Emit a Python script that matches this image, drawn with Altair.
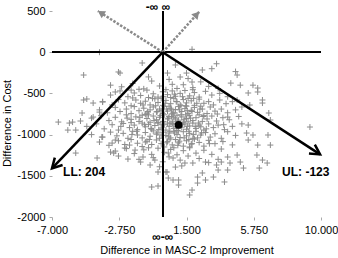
import altair as alt
import pandas as pd

# Bootstrap replicates (difference in effect, difference in cost)
core_points = [
    (-2.6,-420),(-1.9,-380),(-1.2,-445),(-0.7,-350),(-0.2,-410),(0.4,-330),(0.9,-440),(1.3,-395),(1.9,-430),(2.4,-360),(2.9,-415),(3.5,-440),(-0.9,-300),(0.2,-455),(1.6,-320),(-1.5,-450),(0.6,-390),
    (-3.3,-520),(-2.7,-470),(-2.2,-540),(-1.8,-495),(-1.4,-525),(-1.0,-460),(-0.6,-505),(-0.3,-545),(0.0,-480),(0.3,-515),(0.6,-470),(0.8,-535),(1.1,-500),(1.4,-465),(1.7,-530),(2.0,-490),(2.3,-545),(2.7,-475),(3.1,-520),(3.6,-500),(4.1,-540),(-0.9,-550),(0.5,-550),(1.9,-455),(-2.0,-460),
    (-3.8,-600),(-3.2,-640),(-2.8,-575),(-2.4,-615),(-2.0,-650),(-1.7,-580),(-1.4,-620),(-1.1,-595),(-0.8,-640),(-0.5,-565),(-0.3,-610),(0.0,-645),(0.2,-585),(0.5,-625),(0.7,-560),(0.9,-600),(1.1,-640),(1.3,-575),(1.5,-615),(1.8,-590),(2.0,-645),(2.3,-570),(2.6,-620),(2.9,-600),(3.2,-640),(3.6,-580),(4.0,-625),(4.4,-600),(-1.9,-555),(0.4,-655),(1.6,-560),(-0.1,-560),
    (-4.0,-700),(-3.5,-735),(-3.0,-670),(-2.7,-720),(-2.3,-690),(-2.0,-745),(-1.8,-660),(-1.5,-710),(-1.2,-680),(-1.0,-740),(-0.8,-700),(-0.6,-665),(-0.4,-725),(-0.2,-690),(0.0,-745),(0.1,-660),(0.3,-715),(0.5,-680),(0.7,-735),(0.8,-695),(1.0,-660),(1.2,-720),(1.4,-685),(1.6,-745),(1.8,-705),(2.0,-670),(2.2,-730),(2.5,-690),(2.8,-745),(3.0,-665),(3.3,-715),(3.7,-690),(4.1,-735),(4.6,-700),(-1.1,-755),(0.6,-750),(1.5,-655),(-0.1,-710),(2.4,-655),
    (-4.5,-800),(-3.9,-770),(-3.4,-830),(-3.0,-790),(-2.6,-845),(-2.3,-760),(-2.0,-815),(-1.7,-785),(-1.5,-840),(-1.3,-765),(-1.0,-805),(-0.8,-850),(-0.6,-775),(-0.4,-820),(-0.2,-790),(0.0,-840),(0.1,-760),(0.3,-810),(0.4,-780),(0.6,-845),(0.7,-795),(0.9,-765),(1.0,-825),(1.2,-785),(1.3,-850),(1.5,-805),(1.7,-770),(1.9,-830),(2.1,-795),(2.3,-760),(2.5,-840),(2.8,-810),(3.1,-775),(3.4,-835),(3.8,-795),(4.2,-820),(4.8,-780),(-0.9,-760),(0.8,-810),(1.6,-845),(-0.3,-855),(2.6,-770),
    (-4.8,-900),(-4.2,-870),(-3.7,-930),(-3.2,-880),(-2.8,-945),(-2.5,-865),(-2.1,-915),(-1.8,-885),(-1.6,-940),(-1.3,-860),(-1.1,-905),(-0.9,-875),(-0.7,-935),(-0.5,-890),(-0.3,-860),(-0.1,-920),(0.1,-880),(0.2,-945),(0.4,-900),(0.6,-865),(0.7,-925),(0.9,-950),(1.2,-910),(1.4,-870),(1.5,-935),(1.7,-895),(1.9,-860),(2.1,-925),(2.3,-885),(2.6,-945),(2.9,-870),(3.2,-915),(3.5,-885),(3.9,-940),(4.4,-900),(5.0,-870),(-2.0,-855),(0.3,-860),(1.0,-860),(2.4,-905),
    (-4.5,-1000),(-3.8,-1030),(-3.3,-970),(-2.9,-1015),(-2.5,-985),(-2.2,-1045),(-1.9,-960),(-1.6,-1005),(-1.3,-1040),(-1.1,-975),(-0.8,-1020),(-0.6,-955),(-0.4,-995),(-0.2,-1045),(0.0,-970),(0.2,-1010),(0.4,-980),(0.5,-1040),(0.7,-960),(0.9,-1000),(1.1,-1035),(1.3,-965),(1.5,-1015),(1.7,-985),(1.9,-1045),(2.1,-960),(2.4,-1005),(2.7,-975),(3.0,-1030),(3.3,-990),(3.7,-1045),(4.1,-965),(4.6,-1010),(-0.1,-1005),(1.0,-955),(2.2,-1040),
    (-4.0,-1090),(-3.4,-1130),(-2.8,-1075),(-2.4,-1120),(-2.0,-1060),(-1.6,-1105),(-1.3,-1145),(-1.0,-1080),(-0.7,-1120),(-0.4,-1065),(-0.1,-1110),(0.1,-1150),(0.3,-1085),(0.6,-1125),(0.8,-1060),(1.0,-1100),(1.3,-1140),(1.5,-1075),(1.8,-1115),(2.0,-1055),(2.3,-1095),(2.6,-1140),(2.9,-1070),(3.3,-1110),(3.8,-1085),(4.4,-1125),(0.4,-1055),(1.7,-1150),
    (-3.0,-1200),(-2.3,-1170),(-1.8,-1230),(-1.2,-1185),(-0.7,-1240),(-0.3,-1165),(0.1,-1215),(0.5,-1180),(0.9,-1245),(1.3,-1195),(1.7,-1160),(2.1,-1225),(2.6,-1190),(3.1,-1240),(3.7,-1175),(0.7,-1160),(-0.9,-1160),
    (-1.5,-1300),(-0.6,-1280),(0.0,-1330),(0.4,-1270),(1.1,-1310),(1.6,-1260),(2.3,-1290),(2.9,-1340),(-0.2,-1390),(1.2,-1380),(3.5,-1300),
    (-0.95,-720),(-0.55,-830),(-0.15,-770),(0.25,-690),(0.45,-860),(0.65,-740),(0.85,-905),(1.05,-700),(1.25,-880),(1.45,-760),(1.65,-960),(1.85,-720),(2.05,-900),(-0.75,-925),(-0.35,-980),(0.05,-840),(0.35,-1020),(0.55,-780),(0.75,-980),(0.95,-840),(1.15,-760),(1.35,-1040),(1.55,-900),(1.75,-800),(1.95,-1000),(2.25,-860),(-1.15,-880),(-0.45,-650),(0.15,-620),(0.85,-600),(1.45,-650),(2.15,-620),(-0.25,-940),(0.45,-960),(1.05,-1080),(1.65,-1060),(-0.85,-1060),(-1.45,-790),(2.55,-780),(2.75,-930),(-1.65,-960),(0.25,-1100),(0.95,-1130),(1.85,-1110),(-0.05,-880),(0.65,-880),(1.35,-820),(2.45,-980),(-1.25,-640),(-0.65,-560),(0.05,-540),(0.75,-510),(1.25,-540),(1.95,-560),(-2.25,-800),(-2.65,-900),(3.45,-750),(3.85,-880),(-1.95,-1000),(2.95,-1110),(0.55,-700),(1.15,-650),(-0.35,-720),(0.35,-800),(1.55,-710),(2.35,-690),
]
outer_points = [
    (-4.0,0),(1.85,35),(-5.0,-277),(-2.8,-240),(-1.3,-131),(-2.7,-253),(-3.3,-400),(-3.0,-483),(-5.0,-580),(-4.4,-617),(-3.8,-605),(-5.1,-738),(-5.7,-848),(-6.0,-945),(-5.5,-945),(-4.4,-787),(-4.0,-727),(-6.6,-848),(-5.9,-860),(-4.8,-568),
    (3.4,-140),(3.1,-200),(4.6,-235),(4.7,-277),(4.3,-375),(4.9,-400),(5.7,-400),(5.4,-495),(6.0,-483),(6.3,-580),(6.3,-617),(5.5,-641),(5.0,-665),(4.7,-580),(6.7,-738),(6.8,-823),(5.4,-884),(5.7,-1005),(4.1,-787),(0.8,-155),(1.5,-253),(0.3,-253),(1.1,-301),(2.5,-216),(1.85,-362),(6.0,-435),(9.3,-908),
    (6.65,-1005),(6.8,-1127),(6.0,-1127),(5.95,-1248),(6.3,-1309),(6.6,-1345),(6.1,-1406),(5.1,-1406),(4.9,-1333),(5.3,-981),(5.4,-1066),(4.1,-1430),(3.5,-1430),(3.9,-1575),(3.2,-1515),(2.7,-1551),(2.2,-1515),(2.5,-1466),(2.2,-1588),(1.85,-1673),(1.7,-1733),(1.0,-1612),(0.65,-1551),(0.35,-1527),(0.27,-1454),(1.0,-1551),(3.4,-1369),(3.7,-1333),(2.7,-1333),(1.9,-1345),(1.4,-1345),(0.8,-1394),(0.65,-1284),(0.35,-1224),(4.7,-1248),(4.25,-1345),(4.1,-1272),
    (-3.85,-1030),(-5.5,-1224),(-3.3,-1212),(-3.1,-1224),(-2.8,-1260),(-2.2,-1297),(-1.4,-1333),(-0.8,-1369),(-0.7,-1636),(-0.3,-1624),(0.2,-1454),(-3.2,-1103),(-3.0,-1066),(-2.4,-1163),(-2.1,-1127),(-1.75,-1188),(-1.25,-1272),(-1.1,-1090),(-0.5,-1309),(-0.3,-1454),(-4.15,-1284),(-5.2,-835),
]

mean_point = [(1.0, -883)]

# arrows: (name, end x, end y) from origin
solid_arrows = [("LL", -7.0, -1410), ("UL", 9.94, -1240)]
dashed_arrows = [("left", -4.1, 500), ("right", 2.3, 490)]

# annotations
labels_text = ["LL: 204", "UL: -123"]
labels_x = [-6.3, 7.54]
labels_y = [-1454, -1454]
inf_text = ["-\u221e \u221e", "\u221e-\u221e"]
inf_x = [-0.3, 0.0]
inf_y = [545, -2245]
inf_size = [12, 12]

x_ticks = [-7, -2.75, 1.5, 5.75, 10]
y_ticks = [-2000, -1500, -1000, -500, 0, 500]

FONT = "Liberation Sans"

pts = core_points + outer_points
scatter_df = pd.DataFrame({"dx": [p[0] for p in pts], "dc": [p[1] for p in pts]})
mean_df = pd.DataFrame({"dx": [p[0] for p in mean_point], "dc": [p[1] for p in mean_point]})


def seg_df(arrows):
    rows = []
    for name, ex, ey in arrows:
        rows.append({"arrow": name, "order": 0, "dx": 0.0, "dc": 0.0})
        rows.append({"arrow": name, "order": 1, "dx": ex, "dc": ey})
    return pd.DataFrame(rows)


solid_df = seg_df(solid_arrows)
dashed_df = seg_df(dashed_arrows)

xscale = alt.Scale(domain=[-7, 10], nice=False, zero=False)
yscale = alt.Scale(domain=[-2000, 500], nice=False, zero=False)

xenc = alt.X("dx:Q", scale=xscale, axis=alt.Axis(
    values=x_ticks, title="Difference in MASC-2 Improvement",
    labelExpr="replace(format(datum.value, '.3f'), '\u2212', '-')",
    domain=False, grid=False, tickColor="#aaaaaa", tickSize=3, tickWidth=1,
    labelPadding=4, titlePadding=9, labelFontSize=11, titleFontSize=11,
    labelFont=FONT, titleFont=FONT, labelColor="black", titleColor="black",
    titleFontWeight="normal", labelFlush=False))
yenc = alt.Y("dc:Q", scale=yscale, axis=alt.Axis(
    values=y_ticks, title="Difference in Cost",
    labelExpr="replace(format(datum.value, 'd'), '\u2212', '-')",
    domain=False, grid=False, tickColor="#aaaaaa", tickSize=3, tickWidth=1,
    labelPadding=4, titlePadding=4, labelFontSize=11, titleFontSize=11,
    labelFont=FONT, titleFont=FONT, labelColor="black", titleColor="black",
    titleFontWeight="normal", titleY=112))

plus_shape = "M-1,0L1,0M0,-1L0,1"
scatter = alt.Chart(scatter_df).mark_point(
    shape=plus_shape, size=36, filled=False, color="#8c8c8c", strokeWidth=1, opacity=1
).encode(x=xenc, y=yenc)

hline = alt.Chart(scatter_df).mark_rule(color="black", strokeWidth=1.5).encode(
    y=alt.datum(0, scale=yscale))
vline = alt.Chart(scatter_df).mark_rule(color="black", strokeWidth=1.5).encode(
    x=alt.datum(0, scale=xscale))

solid_lines = alt.Chart(solid_df).mark_line(color="black", strokeWidth=2.5).encode(
    x=alt.X("dx:Q", scale=xscale), y=alt.Y("dc:Q", scale=yscale), detail="arrow:N", order="order:Q")
dashed_lines = alt.Chart(dashed_df).mark_line(
    color="#8a8a8a", strokeWidth=2.5, strokeDash=[2.5, 1.5]).encode(
    x=alt.X("dx:Q", scale=xscale), y=alt.Y("dc:Q", scale=yscale), detail="arrow:N", order="order:Q")

head_open = "M-0.55,1L0,0L0.55,1"
head_fill = "M-0.6,1L0,0L0.6,1Z"
solid_ends = solid_df[solid_df["order"] == 1]
dashed_ends = dashed_df[dashed_df["order"] == 1]

heads = []
for (name, _, _), ang in zip(solid_arrows, [223.5, 123.2]):
    heads.append(alt.Chart(solid_ends[solid_ends["arrow"] == name]).mark_point(
        shape=head_open, size=380, filled=False, color="black", strokeWidth=2.5, angle=ang, opacity=1
    ).encode(x=alt.X("dx:Q", scale=xscale), y=alt.Y("dc:Q", scale=yscale)))
for (name, _, _), ang in zip(dashed_arrows, [302.1, 42.4]):
    heads.append(alt.Chart(dashed_ends[dashed_ends["arrow"] == name]).mark_point(
        shape=head_fill, size=200, filled=True, color="#8a8a8a", angle=ang, opacity=1
    ).encode(x=alt.X("dx:Q", scale=xscale), y=alt.Y("dc:Q", scale=yscale)))

mean_dot = alt.Chart(mean_df).mark_circle(size=60, color="black", opacity=1).encode(
    x=alt.X("dx:Q", scale=xscale), y=alt.Y("dc:Q", scale=yscale))

lab_df = pd.DataFrame({"t": labels_text, "dx": labels_x, "dc": labels_y})
labels = alt.Chart(lab_df).mark_text(
    align="left", baseline="middle", font=FONT, fontSize=12, fontWeight="bold", color="black"
).encode(x=alt.X("dx:Q", scale=xscale), y=alt.Y("dc:Q", scale=yscale), text="t:N")

inf_df = pd.DataFrame({"t": inf_text, "dx": inf_x, "dc": inf_y, "fs": inf_size})
infs = alt.Chart(inf_df).mark_text(
    align="center", baseline="middle", font=FONT, fontWeight="bold", color="black"
).encode(x=alt.X("dx:Q", scale=xscale), y=alt.Y("dc:Q", scale=yscale), text="t:N",
         size=alt.Size("fs:Q", scale=None, legend=None))

chart = alt.layer(
    scatter, hline, vline, dashed_lines, solid_lines, *heads, mean_dot, labels, infs
).properties(
    width=269, height=206,
    autosize=alt.AutoSizeParams(type="none"),
    padding={"left": 52, "top": 11, "right": 17, "bottom": 41},
    background="white",
).configure_view(stroke=None)

chart.save("out.html", embed_options={"renderer": "svg", "actions": False})
